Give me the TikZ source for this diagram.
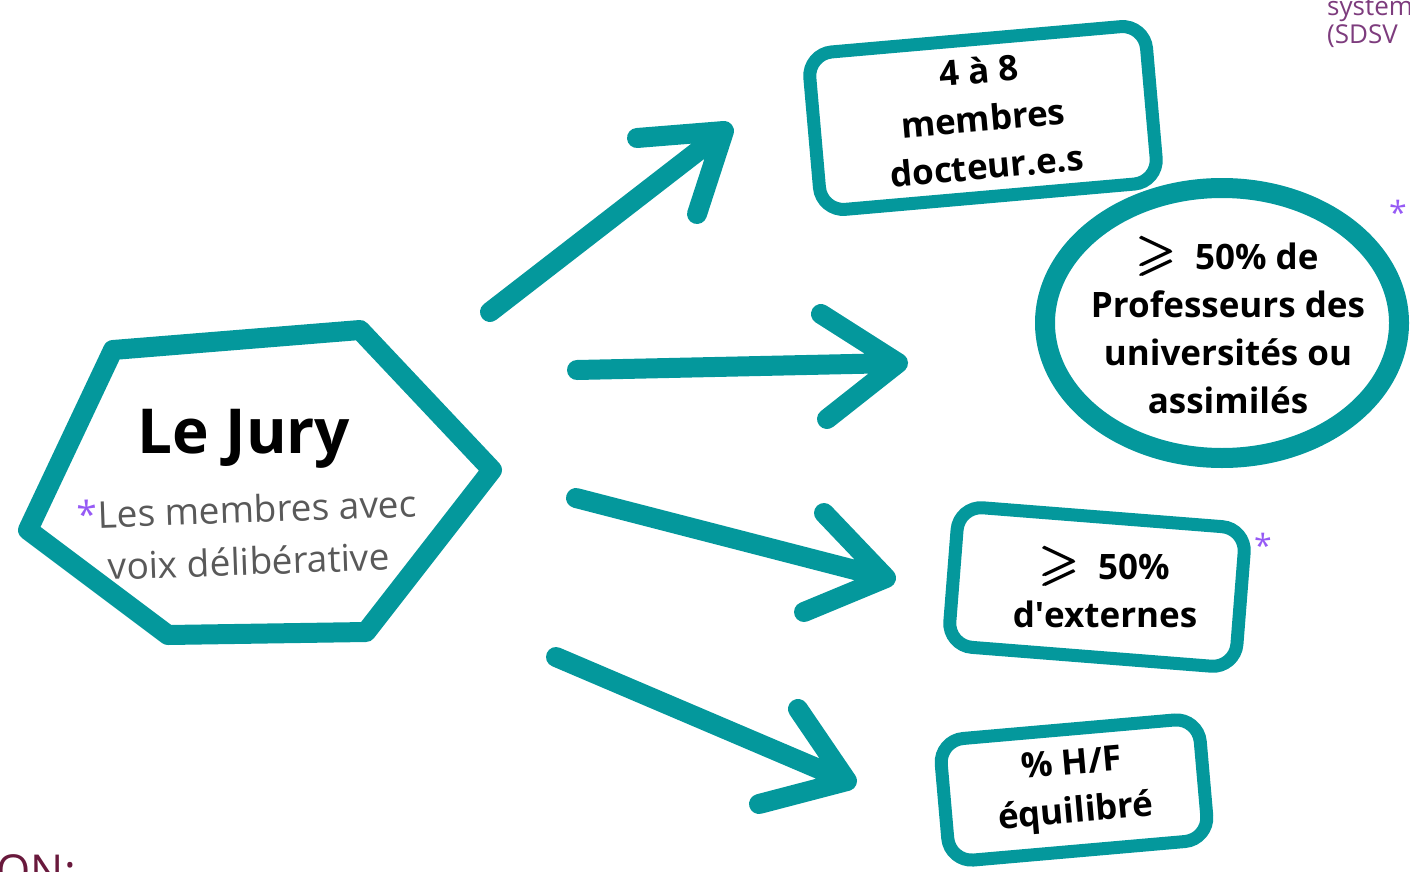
\documentclass[tikz,border=0pt]{standalone}
\usepackage{amsmath,amssymb}
\usepackage{fontspec}
\setmainfont{Open Sans}
\usetikzlibrary{shapes.geometric}
\definecolor{juryteal}{RGB}{4,152,156}
\definecolor{starpurple}{RGB}{150,90,245}
\definecolor{sdsvpurple}{RGB}{125,60,125}
\definecolor{titlemaroon}{RGB}{105,25,60}
\newcommand{\geqmark}{\scalebox{1.45}{$\pmb{\geqslant}$}}

\begin{document}
\begin{tikzpicture}[x=1pt, y=-1pt,
	every node/.style={inner sep=0pt, align=center},
	box/.style={draw=juryteal, line width=13pt, rounded corners=24pt},
	boxtext/.style={font=\bfseries\fontsize{35}{48}\selectfont},
	arrowline/.style={draw=juryteal, line width=20pt, line cap=round, line join=round},
	star/.style={text=starpurple, font=\fontsize{32}{32}\selectfont, anchor=base}]
	\useasboundingbox (0,0) rectangle (1410,872);
	% hexagon
	\draw[juryteal, line width=20pt, line join=round] (113,350) -- (360,330) -- (492,470) -- (366,632) -- (168,635) -- (28,530) -- cycle;
	\node[font=\bfseries\fontsize{62}{62}\selectfont] (jury) at (244,439) {Le Jury};
	\node[rotate=2, text=black!65, font=\fontsize{37}{52}\selectfont] (voix) at (248,535) {{\color{starpurple}*}Les membres avec\\voix délibérative};
	% boxes
	\node[box, boxtext, rotate=5, minimum width=338, minimum height=158] (docteurs) at (983,118) {4 à 8\\membres\\docteur.e.s};
	\node[draw=juryteal, line width=20pt, ellipse, minimum width=354, minimum height=270] (profs) at (1222,323) {};
	\node[boxtext] (profstxt) at (1228,325) {\geqmark\ \ 50\% de\\Professeurs des\\universités ou\\assimilés};
	\node[box, rotate=-4.5, minimum width=288, minimum height=140] (externes) at (1097,587) {};
	\node[boxtext] (externestxt) at (1105,587) {\geqmark\ \ 50\%\\d\textquotesingle externes};
	\node[box, boxtext, rotate=5, minimum width=260, minimum height=122] (parite) at (1074,790) {\% H/F\\équilibré};
	\node[star] (star1) at (1398,224) {*};
	\node[star] (star2) at (1263,557) {*};
	% arrows
	\coordinate (a1s) at (490,312); \coordinate (a1t) at (724,131); \coordinate (a1u) at (637,138); \coordinate (a1d) at (697,214);
	\coordinate (a2s) at (577,370); \coordinate (a2t) at (898,363); \coordinate (a2u) at (821,314); \coordinate (a2d) at (827,419);
	\coordinate (a3s) at (576,498); \coordinate (a3t) at (886,578); \coordinate (a3u) at (824,513); \coordinate (a3d) at (804,612);
	\coordinate (a4s) at (556,657); \coordinate (a4t) at (847,781); \coordinate (a4u) at (798,709); \coordinate (a4d) at (759,804);
	\foreach \a in {a1,a2,a3,a4} {\draw[arrowline] (\a s) -- (\a t) (\a u) -- (\a t) -- (\a d);}
	% page fragments
	\node[anchor=base west, text=sdsvpurple, font=\fontsize{26}{26}\selectfont] (sdsvtop) at (1327,16) {system};
	\node[anchor=base west, text=sdsvpurple, font=\fontsize{26}{26}\selectfont] (sdsvbot) at (1327,44) {(SDSV};
	\node[anchor=base east, text=titlemaroon, font=\fontsize{44}{44}\selectfont] (titleon) at (76,886) {ON:};
\end{tikzpicture}
\end{document}
